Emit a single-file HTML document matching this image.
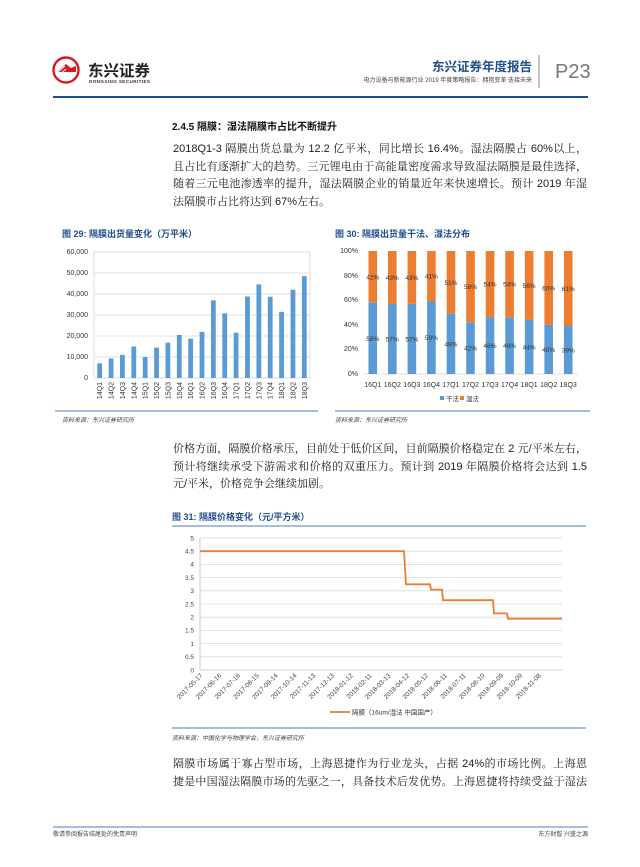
<!DOCTYPE html>
<html><head><meta charset="utf-8">
<style>
html,body{margin:0;padding:0;background:#fff;}
body{width:640px;height:867px;position:relative;overflow:hidden;font-family:"Liberation Sans","Noto Serif CJK SC","Noto Sans CJK SC",serif;}
.p{position:absolute;left:173px;width:414px;font-size:11px;color:#222;line-height:17.5px;}
.p div{text-align:justify;text-align-last:justify;white-space:nowrap;}
.p div.l{text-align-last:left;}
.a{position:absolute;white-space:nowrap;}
svg text{font-family:"Liberation Sans","Noto Sans CJK SC",sans-serif;}
</style></head><body>
<svg width="640" height="867" style="position:absolute;left:0;top:0">
<circle cx="66" cy="70" r="12.5" fill="none" stroke="#d71920" stroke-width="2.4"/>
<path d="M57 72 L66 64 L71 68 L76 66 L76 72 Z" fill="#d71920"/>
<path d="M56 70 L64 63 M57 73 L65 66 M58 76 L66 69" stroke="#fff" stroke-width="0.9"/>
<text x="88" y="76" font-size="15.5" font-weight="bold" fill="#222" font-family="Noto Sans CJK SC">东兴证券</text>
<text x="89" y="83" font-size="4.6" font-weight="bold" fill="#333" textLength="61">DONGXING SECURITIES</text>
<text x="532" y="71" font-size="12.5" font-weight="bold" fill="#1f4e8c" text-anchor="end" font-family="Noto Sans CJK SC">东兴证券年度报告</text>
<text x="532" y="82" font-size="6" fill="#444" text-anchor="end" font-family="Noto Serif CJK SC">电力设备与新能源行业 2019 年度策略报告：拥抱变革 迭接未来</text>
<line x1="539" y1="55" x2="539" y2="88" stroke="#888" stroke-width="1"/>
<text x="555" y="78" font-size="20" fill="#777">P23</text>
<line x1="53" y1="97" x2="588" y2="97" stroke="#1f4e8c" stroke-width="2"/>

<text x="62" y="237" font-size="9" font-weight="bold" fill="#1f4e8c" font-family="Noto Sans CJK SC">图 29: 隔膜出货量变化（万平米）</text>
<g font-size="7" fill="#333" text-anchor="end">
<rect x="94" y="252" width="216" height="126" fill="#fff" stroke="#d0d0d0" stroke-width="0.7"/>
<line x1="94" y1="273" x2="310" y2="273" stroke="#d9d9d9" stroke-width="0.7"/>
<line x1="94" y1="294" x2="310" y2="294" stroke="#d9d9d9" stroke-width="0.7"/>
<line x1="94" y1="315" x2="310" y2="315" stroke="#d9d9d9" stroke-width="0.7"/>
<line x1="94" y1="336" x2="310" y2="336" stroke="#d9d9d9" stroke-width="0.7"/>
<line x1="94" y1="357" x2="310" y2="357" stroke="#d9d9d9" stroke-width="0.7"/>
<text x="88" y="254">60,000</text><text x="88" y="275">50,000</text><text x="88" y="296">40,000</text><text x="88" y="317">30,000</text><text x="88" y="338">20,000</text><text x="88" y="359">10,000</text><text x="88" y="380">0</text>
</g>
<g id="b29"></g>
<line x1="55" y1="411" x2="318" y2="411" stroke="#4a7ebb" stroke-width="1"/>
<text x="62" y="422" font-size="6" font-style="italic" fill="#444" font-family="Noto Serif CJK SC">资料来源：东兴证券研究所</text>

<text x="335" y="237" font-size="9" font-weight="bold" fill="#1f4e8c" font-family="Noto Sans CJK SC">图 30: 隔膜出货量干法、湿法分布</text>
<g font-size="7" fill="#333" text-anchor="end">
<line x1="363" y1="374" x2="578" y2="374" stroke="#d0d0d0" stroke-width="0.7"/>
<text x="358" y="253">100%</text><text x="358" y="278">80%</text><text x="358" y="302">60%</text><text x="358" y="327">40%</text><text x="358" y="351">20%</text><text x="358" y="376">0%</text>
</g>
<g id="b30"></g>
<rect x="440" y="396" width="4" height="4" fill="#5b9bd5"/><text x="446" y="401" font-size="6.5" fill="#333" font-family="Noto Sans CJK SC">干法</text>
<rect x="460" y="396" width="4" height="4" fill="#ed7d31"/><text x="466" y="401" font-size="6.5" fill="#333" font-family="Noto Sans CJK SC">湿法</text>
<line x1="335" y1="411" x2="590" y2="411" stroke="#4a7ebb" stroke-width="1"/>
<text x="335" y="422" font-size="6" font-style="italic" fill="#444" font-family="Noto Serif CJK SC">资料来源：东兴证券研究所</text>

<text x="172" y="520" font-size="9" font-weight="bold" fill="#1f4e8c" font-family="Noto Sans CJK SC">图 31: 隔膜价格变化（元/平方米）</text>
<line x1="172" y1="526" x2="586" y2="526" stroke="#4a7ebb" stroke-width="1"/>
<g id="g31" font-size="6.5" fill="#444" text-anchor="end"></g>
<polyline points="200,551.2 404,551.2 406,584.3 430,584.3 431,589.6 442,589.6 443,600.2 493,600.2 494,613.4 507,613.4 508,618.7 562,618.7" fill="none" stroke="#ed7d31" stroke-width="1.8"/>
<line x1="330" y1="712" x2="350" y2="712" stroke="#ed7d31" stroke-width="1.8"/>
<text x="352" y="714.5" font-size="6.5" fill="#333" font-family="Noto Sans CJK SC">隔膜（16um/湿法 中国国产）</text>
<line x1="172" y1="728" x2="586" y2="728" stroke="#4a7ebb" stroke-width="1"/>
<text x="172" y="740" font-size="6" font-style="italic" fill="#444" font-family="Noto Serif CJK SC">资料来源：中国化学与物理学会，东兴证券研究所</text>

<line x1="53" y1="827" x2="588" y2="827" stroke="#4a7ebb" stroke-width="1"/>
<text x="53" y="836" font-size="6" fill="#444" font-family="Noto Serif CJK SC">敬请参阅报告结尾处的免责声明</text>
<text x="588" y="836" font-size="6" fill="#444" text-anchor="end" font-family="Noto Serif CJK SC">东方财智 兴盛之源</text>
</svg>

<div class="a" style="left:172px;top:118px;font-size:10px;font-weight:bold;color:#111;font-family:'Liberation Sans','Noto Sans CJK SC',sans-serif;">2.4.5 隔膜：湿法隔膜市占比不断提升</div>

<div class="p" style="top:141px">
<div>2018Q1-3 隔膜出货总量为 12.2 亿平米，同比增长 16.4%。湿法隔膜占 60%以上，</div>
<div>且占比有逐渐扩大的趋势。三元锂电由于高能量密度需求导致湿法隔膜是最佳选择，</div>
<div>随着三元电池渗透率的提升，湿法隔膜企业的销量近年来快速增长。预计 2019 年湿</div>
<div class="l">法隔膜市占比将达到 67%左右。</div>
</div>

<div class="p" style="top:441px">
<div>价格方面，隔膜价格承压，目前处于低价区间，目前隔膜价格稳定在 2 元/平米左右，</div>
<div>预计将继续承受下游需求和价格的双重压力。预计到 2019 年隔膜价格将会达到 1.5</div>
<div class="l">元/平米，价格竞争会继续加剧。</div>
</div>

<div class="p" style="top:756px">
<div>隔膜市场属于寡占型市场，上海恩捷作为行业龙头，占据 24%的市场比例。上海恩</div>
<div>捷是中国湿法隔膜市场的先驱之一，具备技术后发优势。上海恩捷将持续受益于湿法</div>
</div>

<script>
var NS="http://www.w3.org/2000/svg";
function el(t,a,p,txt){var e=document.createElementNS(NS,t);for(var k in a)e.setAttribute(k,a[k]);if(txt!==undefined)e.textContent=txt;p.appendChild(e);return e;}
var v=[7000,9300,11000,15000,10000,14500,16800,20500,18700,22000,37000,30800,21600,38800,44600,38700,31500,42000,48500];
var cats=["14Q1","14Q2","14Q3","14Q4","15Q1","15Q2","15Q3","15Q4","16Q1","16Q2","16Q3","16Q4","17Q1","17Q2","17Q3","17Q4","18Q1","18Q2","18Q3"];
var g=document.getElementById("b29");var w=216/19;
for(var i=0;i<19;i++){var cx=94+w*(i+0.5);var h=v[i]/60000*126;
el("rect",{x:cx-2.4,y:378-h,width:4.8,height:h,fill:"#5b9bd5"},g);
el("text",{x:0,y:0,transform:"translate("+(cx+2.5)+",382) rotate(-90)","font-size":"7",fill:"#333","text-anchor":"end"},g,cats[i]);}
var d=[58,57,57,59,49,42,46,46,44,40,39];
var c2=["16Q1","16Q2","16Q3","16Q4","17Q1","17Q2","17Q3","17Q4","18Q1","18Q2","18Q3"];
var g2=document.getElementById("b30");var w2=215/11;var H=123;
for(var i=0;i<11;i++){var cx=363+w2*(i+0.5);var hb=d[i]/100*H;
el("rect",{x:cx-4.3,y:251,width:8.6,height:H-hb,fill:"#ed7d31"},g2);
el("rect",{x:cx-4.3,y:374-hb,width:8.6,height:hb,fill:"#5b9bd5"},g2);
el("text",{x:cx,y:374-hb/2+2.5,"font-size":"6.5",fill:"#333","text-anchor":"middle"},g2,d[i]+"%");
el("text",{x:cx,y:251+(H-hb)/2+2.5,"font-size":"6.5",fill:"#333","text-anchor":"middle"},g2,(100-d[i])+"%");
el("text",{x:cx,y:387,"font-size":"7",fill:"#333","text-anchor":"middle"},g2,c2[i]);}
var g3=document.getElementById("g31");
var labs=["5","4.5","4","3.5","3","2.5","2","1.5","1","0.5","0"];
for(var i=0;i<11;i++){var y=538+i*13.2;
if(i<10)el("line",{x1:200,y1:y,x2:562,y2:y,stroke:"#d9d9d9","stroke-width":"0.8"},g3);
el("text",{x:194,y:y+2.3},g3,labs[i]);}
el("line",{x1:200,y1:538,x2:200,y2:670,stroke:"#bfbfbf","stroke-width":"0.8"},g3);
el("line",{x1:200,y1:670,x2:562,y2:670,stroke:"#bfbfbf","stroke-width":"0.8"},g3);
var dates=["2017-05-17","2017-06-16","2017-07-16","2017-08-15","2017-09-14","2017-10-14","2017-11-13","2017-12-13","2018-01-12","2018-02-11","2018-03-13","2018-04-12","2018-05-12","2018-06-11","2018-07-11","2018-08-10","2018-09-09","2018-10-09","2018-11-08"];
for(var i=0;i<19;i++){var x=203+i*18.8;
el("text",{x:0,y:0,transform:"translate("+x+",676) rotate(-45)","font-size":"6.5"},g3,dates[i]);}
</script>
</body></html>
